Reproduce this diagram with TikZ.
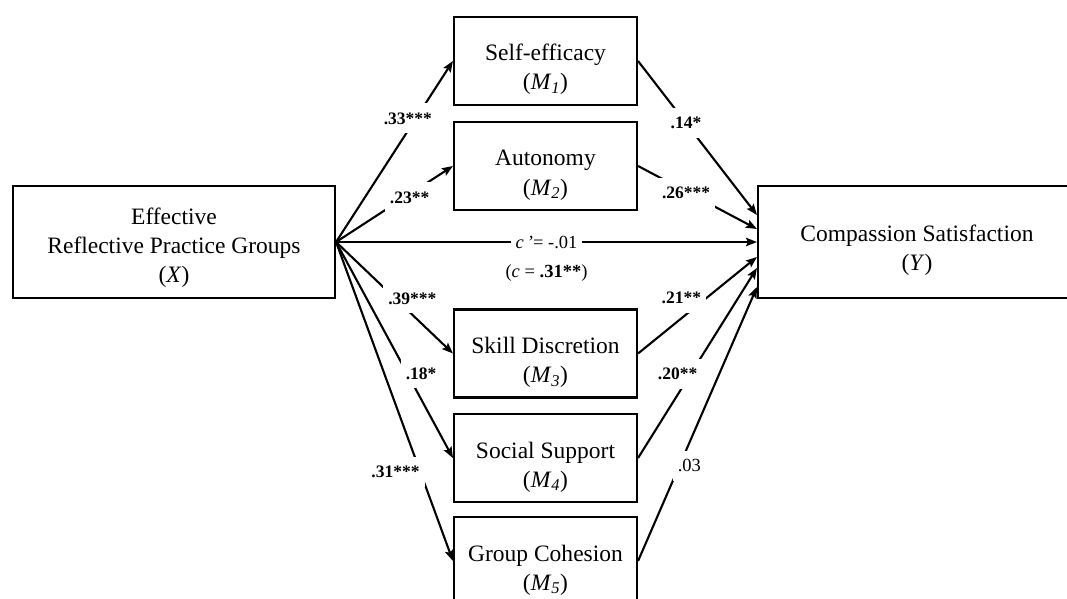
\documentclass[tikz,border=0pt]{standalone}
\usepackage{fontspec}
\setmainfont{Liberation Serif}
\usepackage{tikz}
\usetikzlibrary{arrows.meta}
\newcommand\medvar[2]{\rule{0pt}{34pt}#1\\(\textit{M}\textsubscript{\textit{#2}})}
\tikzstyle{var} =[draw,line width=2.1pt,align=center,inner sep=0pt,font=\fontsize{23.5}{29}\selectfont]
\tikzstyle{med} =[var,minimum width=183pt,minimum height=88pt]
\tikzstyle{pth} =[line width=2.1pt,-{Stealth[length=11pt,width=8.5pt,inset=2pt]}]
\tikzstyle{coef}=[fill=white,inner xsep=5pt,inner ysep=9pt,font=\fontsize{17.5}{20}\selectfont\bfseries]
\tikzstyle{cns} =[coef,font=\fontsize{18.5}{22}\selectfont]

\begin{document}
\begin{tikzpicture}[x=1pt,y=-1pt]
	\useasboundingbox (0,0) rectangle (1067,599);
	\clip (0,0) rectangle (1067,599);
	% variables
	\node[var,minimum width=322pt,minimum height=112pt] (x) at (174,242) {\rule{0pt}{27pt}Effective\\Reflective Practice Groups\\(\textit{X})};
	\node[med] (m1) at (545.5,61)  {\medvar{Self-efficacy}{1}};
	\node[med] (m2) at (545.5,166) {\medvar{Autonomy}{2}};
	\node[med] (m3) at (545.5,353.5) {\medvar{Skill Discretion}{3}};
	\node[med] (m4) at (545.5,458) {\medvar{Social Support}{4}};
	\node[med] (m5) at (545.5,561) {\medvar{Group Cohesion}{5}};
	\node[var,minimum width=318pt,minimum height=112pt] (y) at (917,242) {\rule{0pt}{33pt}Compassion Satisfaction\\(\textit{Y})};
	% a paths
	\draw[pth] (x.east) --node[coef,pos=.683,xshift=-8pt] {.33***} (m1.west);
	\draw[pth] (x.east) --node[coef,pos=.587,xshift=5pt]  {.23**}  (m2.west);
	\draw[pth] (x.east) --node[coef,pos=.507,xshift=17pt] {.39***} (m3.west);
	\draw[pth] (x.east) --node[coef,pos=.608,xshift=14pt] {.18*}   (m4.west);
	\draw[pth] (x.east) --node[coef,pos=.722,xshift=-25pt]{.31***} (m5.west);
	% b paths
	\draw[pth] (m1.east) --node[coef,pos=.403]            {.14*}   ([yshift=27pt]y.west);
	\draw[pth] (m2.east) --node[coef,pos=.429,xshift=-3pt]{.26***} ([yshift=13pt]y.west);
	\draw[pth] (m3.east) --node[coef,pos=.575,xshift=-25pt]{.21**} ([yshift=-15pt]y.west);
	\draw[pth] (m4.east) --node[coef,pos=.442,xshift=-13pt]{.20**} ([yshift=-26pt]y.west);
	\draw[pth] (m5.east) --node[cns,pos=.347,xshift=10pt] {.03}    ([yshift=-45pt]y.west);
	% direct path
	\draw[pth] (x.east) --node[cns,pos=.5] {\textit{c\,’}= -.01}
		node[pos=.5,yshift=-31pt,font=\fontsize{18.5}{22}\selectfont] {(\textit{c} = \textbf{.31**})} (y.west);
\end{tikzpicture}
\end{document}
